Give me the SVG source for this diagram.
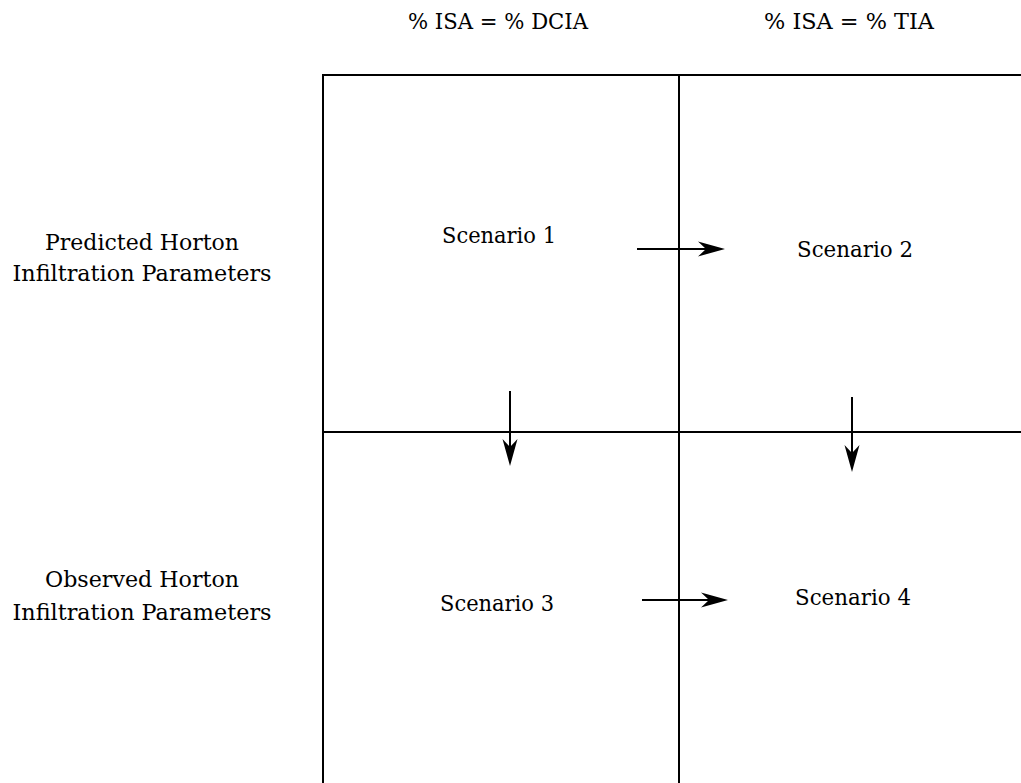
<svg xmlns="http://www.w3.org/2000/svg" width="1021" height="783" viewBox="0 0 1021 783">
<style>
text{font-family:"DejaVu Serif","Liberation Serif",serif;font-size:22px;fill:#000;text-anchor:middle}
.ln{stroke:#000;stroke-width:2;fill:none}
</style>
<defs>
<marker id="ah" viewBox="-9 -9 30 18" markerWidth="30" markerHeight="18" refX="0" refY="0" markerUnits="userSpaceOnUse" orient="auto">
<path d="M19,0 L-8,-7.5 L0,0 L-8,7.5 Z" fill="#000"/>
</marker>
</defs>
<rect width="1021" height="783" fill="#fff"/>
<g id="grid">
<path class="ln" d="M323,783 V75 H1021"/>
<path class="ln" d="M679,75 V783"/>
<path class="ln" d="M323,432 H1021"/>
</g>
<g id="headers">
<text x="498" y="29" textLength="180" lengthAdjust="spacingAndGlyphs">% ISA = % DCIA</text>
<text x="849" y="29" textLength="170" lengthAdjust="spacingAndGlyphs">% ISA = % TIA</text>
</g>
<g id="rowlabels">
<text x="142" y="250" textLength="194" lengthAdjust="spacingAndGlyphs">Predicted Horton</text>
<text x="142" y="281" textLength="259" lengthAdjust="spacingAndGlyphs">Infiltration Parameters</text>
<text x="142" y="587" textLength="194" lengthAdjust="spacingAndGlyphs">Observed Horton</text>
<text x="142" y="620" textLength="259" lengthAdjust="spacingAndGlyphs">Infiltration Parameters</text>
</g>
<g id="s1"><text x="499" y="243" textLength="114" lengthAdjust="spacingAndGlyphs">Scenario 1</text></g>
<g id="s2"><text x="855" y="257" textLength="116" lengthAdjust="spacingAndGlyphs">Scenario 2</text></g>
<g id="s3"><text x="497" y="611" textLength="114" lengthAdjust="spacingAndGlyphs">Scenario 3</text></g>
<g id="s4"><text x="853" y="605" textLength="116" lengthAdjust="spacingAndGlyphs">Scenario 4</text></g>
<g id="connectors">
<line class="ln" x1="637" y1="249" x2="706" y2="249" marker-end="url(#ah)"/>
<line class="ln" x1="642" y1="600" x2="709" y2="600" marker-end="url(#ah)"/>
<line class="ln" x1="510" y1="391" x2="510" y2="447" marker-end="url(#ah)"/>
<line class="ln" x1="852" y1="397" x2="852" y2="453" marker-end="url(#ah)"/>
</g>
</svg>
